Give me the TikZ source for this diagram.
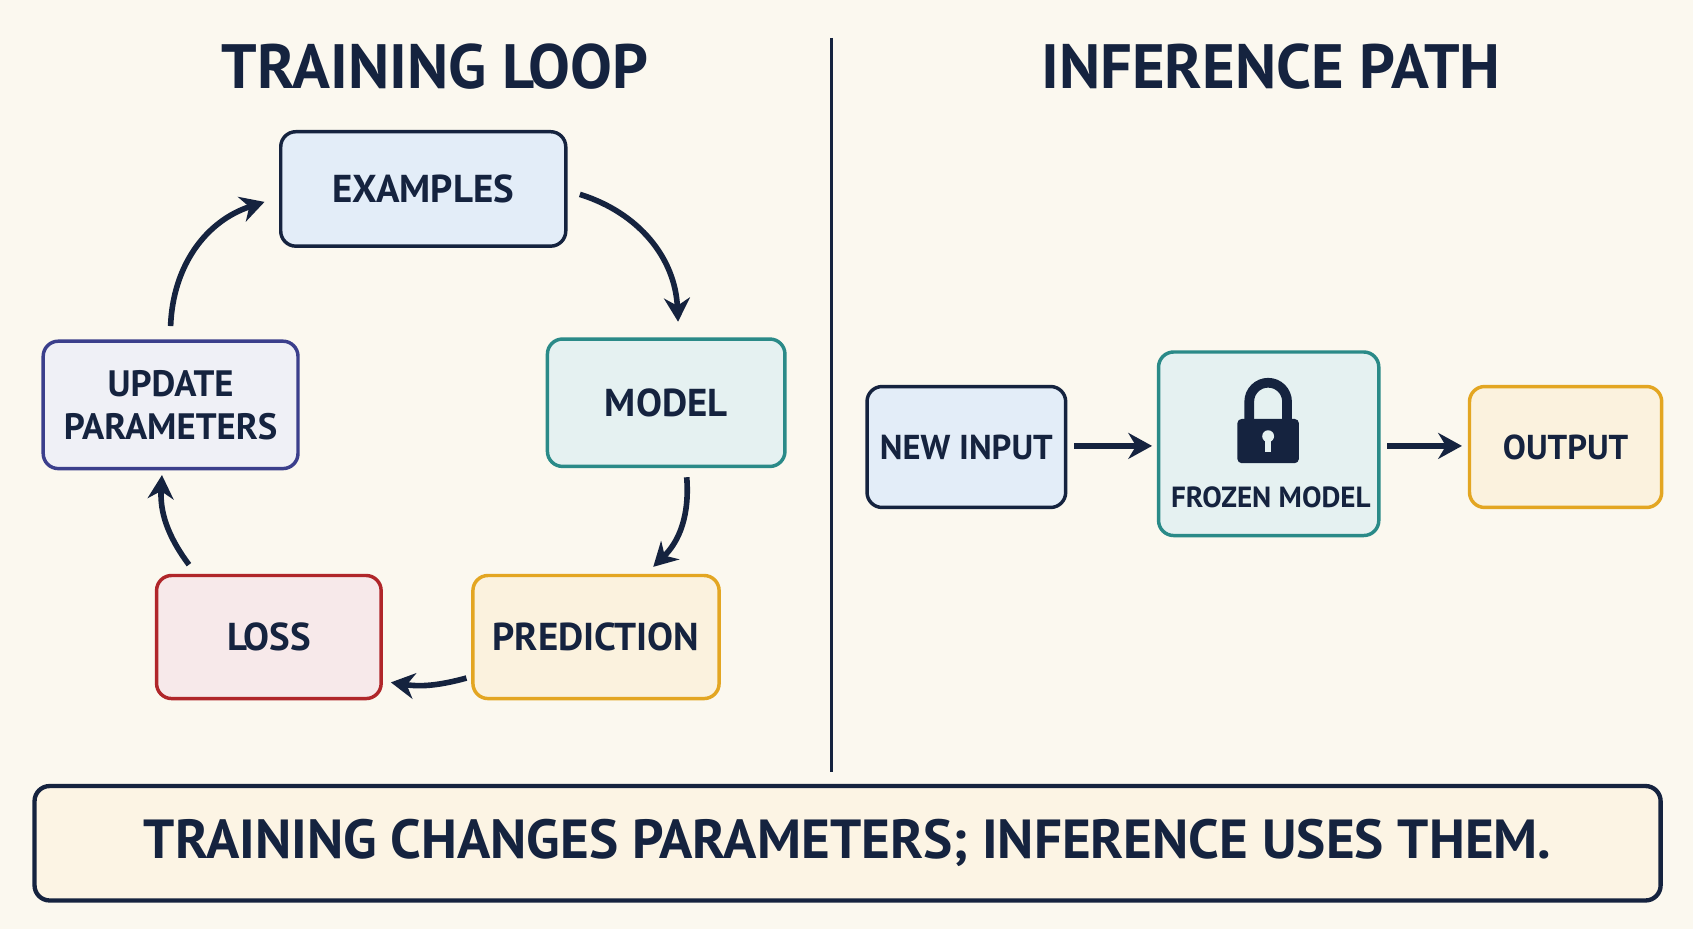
\documentclass[tikz,border=0pt]{standalone}
\usepackage{fontspec}
\setmainfont{PT Sans}
\usepackage{tikz}
\usetikzlibrary{arrows.meta}
\definecolor{bgcol}{HTML}{FBF8EF}
\definecolor{navy}{HTML}{15233F}
\definecolor{teal}{HTML}{2A8A88}
\definecolor{orng}{HTML}{E3A622}
\definecolor{redb}{HTML}{B0262A}
\definecolor{purp}{HTML}{3B3F8C}
\definecolor{lblue}{HTML}{E3EDF8}
\tikzset{
  box/.style={draw, line width=1.6pt, rounded corners=7pt, font=\bfseries\fontsize{18}{19}\selectfont, text=navy, align=center},
  flow/.style={draw=navy, line width=2.6pt, -{Stealth[length=11pt,width=12pt]}},
}
\begin{document}
\begin{tikzpicture}[x=0.5pt,y=0.5pt,yscale=-1,xscale=1]
\fill[bgcol] (0,0) rectangle (1568,860);
\useasboundingbox (0,0) rectangle (1568,860);
% Titles
\node[text=navy, font=\bfseries\fontsize{29}{30}\selectfont] (ttrain) at (403,62) {TRAINING LOOP};
\node[text=navy, font=\bfseries\fontsize{29}{30}\selectfont] (tinfer) at (1177,62) {INFERENCE PATH};
% Divider
\draw[navy, line width=1.6pt] (770,35) -- (770,715);
% Training loop boxes
\node[box, draw=navy, fill=lblue, minimum width=132pt, minimum height=53pt] (examples) at (392,175) {EXAMPLES};
\node[box, draw=teal, fill=teal!12, minimum width=110pt, minimum height=59pt] (model) at (617,373) {MODEL};
\node[box, draw=orng, fill=orng!15, minimum width=114pt, minimum height=57pt] (prediction) at (552,590) {PREDICTION};
\node[box, draw=redb, fill=redb!10, minimum width=104pt, minimum height=57pt] (loss) at (249,590) {LOSS};
\node[box, draw=purp, fill=purp!8, minimum width=118pt, minimum height=59pt, font=\bfseries\fontsize{17}{19}\selectfont] (update) at (158,375) {UPDATE\\[1pt]PARAMETERS};
% Loop arrows
\coordinate (a1) at (537,180); \coordinate (a2) at (628,298);
\coordinate (b1) at (636,442); \coordinate (b2) at (605,525);
\coordinate (c1) at (432,628); \coordinate (c2) at (362,632);
\coordinate (d1) at (175,523); \coordinate (d2) at (150,440);
\coordinate (e1) at (158,302); \coordinate (e2) at (245,187);
\draw[flow] (a1) to[bend right=35] (a2);
\draw[flow] (b1) to[bend right=25] (b2);
\draw[flow] (c1) to[bend right=12] (c2);
\draw[flow] (d1) to[bend right=20] (d2);
\draw[flow] (e1) to[bend right=35] (e2);
% Inference path
\node[box, draw=navy, fill=lblue, minimum width=92pt, minimum height=56pt, font=\bfseries\fontsize{16}{18}\selectfont] (newin) at (895,414) {NEW INPUT};
\node[box, draw=teal, fill=teal!12, minimum width=102pt, minimum height=85pt] (frozen) at (1175,411) {};
\node[text=navy, font=\bfseries\fontsize{13.5}{16}\selectfont] (frozenlbl) at (1177,461) {FROZEN MODEL};
\node[box, draw=orng, fill=orng!15, minimum width=89pt, minimum height=56pt, font=\bfseries\fontsize{16}{18}\selectfont] (output) at (1450,414) {OUTPUT};
\coordinate (f1) at (995,413); \coordinate (f2) at (1067,413);
\coordinate (g1) at (1285,413); \coordinate (g2) at (1354,413);
\draw[flow] (f1) -- (f2);
\draw[flow] (g1) -- (g2);
% Padlock
\draw[navy, line width=4.5pt] (1157,392) -- (1157,372) arc[start angle=180, end angle=360, radius=17.5] -- (1192,392);
\fill[navy, rounded corners=2pt] (1146,388) rectangle (1203,429);
\fill[teal!12] (1174.5,404) circle (5.5);
\fill[teal!12] (1172,405) rectangle (1177,419);
% Banner
\node[draw=navy, line width=2pt, rounded corners=7pt, fill=orng!12, minimum width=753pt, minimum height=53pt, text=navy, font=\bfseries\fontsize{25.5}{29}\selectfont] (banner) at (785,781) {TRAINING CHANGES PARAMETERS; INFERENCE USES THEM.};
\end{tikzpicture}
\end{document}
